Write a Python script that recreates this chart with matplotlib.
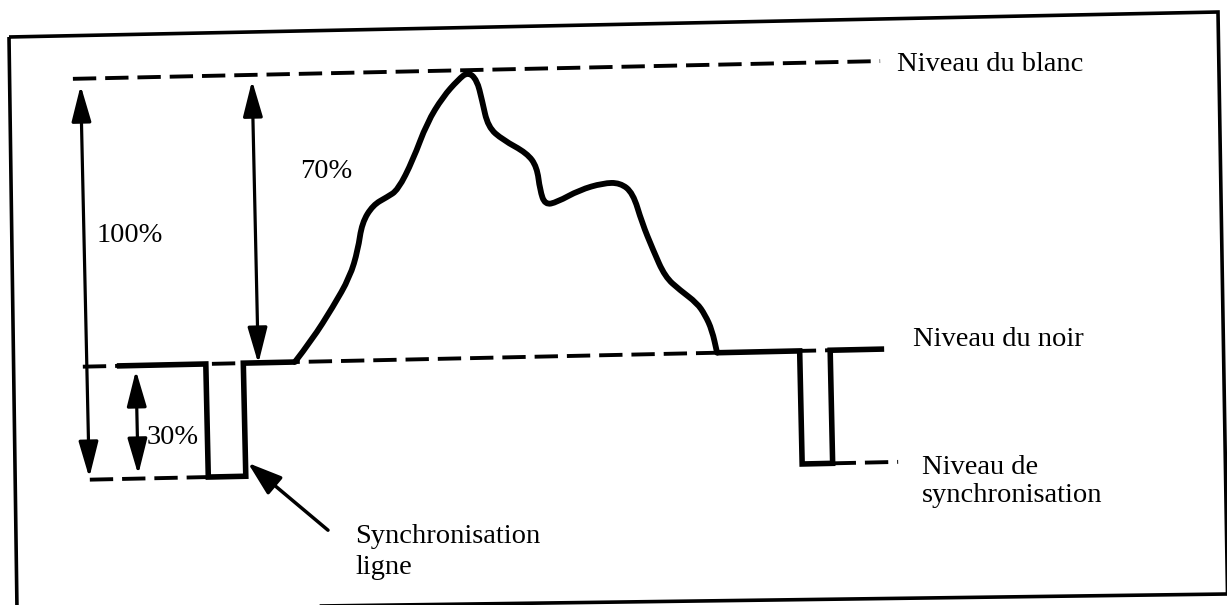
import matplotlib
matplotlib.use("Agg")
import matplotlib.pyplot as plt
from matplotlib.patches import FancyArrowPatch, Polygon, PathPatch
from matplotlib.path import Path
from matplotlib.transforms import Affine2D

# Signal levels, in % of the sync-to-white range
SYNC = 0.0
BLACK = 28.2
WHITE = 100.0

# Video line trace: time position (diagram units) and level (%)
WAVE_X = [293.6, 311.1, 332.8, 350.5, 359.1, 363.7, 375.1, 389.3, 400.4, 416.1,
          430.9, 447.5, 462.8, 473.0, 481.8, 486.4, 491.8, 506.5, 530.2, 539.9,
          542.4, 547.1, 559.1, 581.8, 605.6, 622.6, 635.3, 643.7, 654.1, 665.5,
          680.2, 696.9, 704.7, 711.3, 715.9]
WAVE_Y = [28.2, 33.6, 41.7, 49.1, 55.8, 62.5, 66.9, 68.8, 70.5, 77.9,
          87.1, 93.5, 97.6, 99.6, 97.5, 92.5, 85.7, 82.4, 79.0, 75.5,
          69.7, 66.0, 66.6, 69.5, 71.1, 71.1, 68.5, 61.0, 54.2, 47.4,
          44.0, 40.7, 37.7, 33.9, 28.2]

# sync pulses (start, end) on the time axis
PULSES = [(204.5, 242.0), (798.5, 829.0)]
TRACE_START, TRACE_END = 115.5, 883.0

# extent of the dashed reference levels
WHITE_SPAN = (77.9, 885.3)
BLACK_SPAN = (81.5, 829.0)
SYNC_SPANS = [(86.0, 204.5), (829.0, 894.5)]

# dimension arrows: (x, level from, level to)
DIM_ARROWS = [(85.5, 98.3, 0.5), (257.0, 98.6, 28.0), (134.5, 27.0, 1.0)]
POINTER = ((323.0, -13.9), (244.4, 3.3))

# labels: text, x, baseline y (image pixels)
LABELS = [
    ("Niveau du blanc", 897, 71),
    ("70%", 300, 178),
    ("100%", 97, 242),
    ("30%", 147, 444),
    ("Synchronisation", 355, 543),
    ("ligne", 355, 574),
    ("Niveau du noir", 913, 346),
    ("Niveau de", 922, 474),
    ("synchronisation", 922, 502),
]

# image frame corners (pixels)
FRAME = [(9, 37), (1218, 12), (1227.5, 594), (17, 610)]

PX_PER_PCT = 4.011
SYNC_PX = 468.4
TILT = -1.26

fig = plt.figure(figsize=(12.27, 6.05), dpi=100)
ax = fig.add_axes([0, 0, 1, 1])
ax.set_xlim(0, 1227)
ax.set_ylim(605, 0)
ax.axis("off")

# diagram coords (time, %) -> slightly tilted scan pixels
diag = (Affine2D().scale(1, -PX_PER_PCT).translate(0, SYNC_PX)
        .rotate_deg_around(600, 300, TILT) + ax.transData)

ax.add_patch(Polygon(FRAME, closed=True, fill=False, lw=2.6, ec="black"))

dash = (0, (6, 2.3))
ax.plot(WHITE_SPAN, [WHITE, WHITE], color="black", lw=2.8, ls=dash, transform=diag)
ax.plot(BLACK_SPAN, [BLACK, BLACK], color="black", lw=2.8, ls=dash, transform=diag)
for x0, x1 in SYNC_SPANS:
    ax.plot([x0, x1], [SYNC, SYNC], color="black", lw=2.8, ls=dash, transform=diag)

# black level + sync pulses (straight parts of the trace)
lx = [TRACE_START, PULSES[0][0], PULSES[0][0], PULSES[0][1], PULSES[0][1], WAVE_X[0]]
ly = [BLACK, BLACK, SYNC, SYNC, BLACK, BLACK]
ax.plot(lx, ly, color="black", lw=4.0, solid_joinstyle="miter",
        solid_capstyle="butt", transform=diag)
rx = [WAVE_X[-1], PULSES[1][0], PULSES[1][0], PULSES[1][1], PULSES[1][1], TRACE_END]
ry = [BLACK, BLACK, SYNC, SYNC, BLACK, BLACK]
ax.plot(rx, ry, color="black", lw=4.0, solid_joinstyle="miter",
        solid_capstyle="butt", transform=diag)

# picture content, drawn as a smooth quadratic path through the points
pts = list(zip(WAVE_X, WAVE_Y))
verts = [pts[0]]
codes = [Path.MOVETO]
for i in range(1, len(pts) - 1):
    mid = ((pts[i][0] + pts[i + 1][0]) / 2, (pts[i][1] + pts[i + 1][1]) / 2)
    verts += [pts[i], mid]
    codes += [Path.CURVE3, Path.CURVE3]
verts.append(pts[-1])
codes.append(Path.LINETO)
ax.add_patch(PathPatch(Path(verts, codes), fill=False, lw=4.2, ec="black",
                       capstyle="round", joinstyle="round", transform=diag))

for x, v0, v1 in DIM_ARROWS:
    ax.add_patch(FancyArrowPatch((x, v0), (x, v1), transform=diag,
                                 arrowstyle="<|-|>,head_length=22,head_width=6",
                                 mutation_scale=1, lw=2.3, color="black",
                                 shrinkA=0, shrinkB=0))

ax.add_patch(FancyArrowPatch(POINTER[0], POINTER[1], transform=diag,
                             arrowstyle="-|>,head_length=21,head_width=7",
                             mutation_scale=1, lw=2.5, color="black",
                             shrinkA=0, shrinkB=0))

for txt, x, y in LABELS:
    ax.text(x, y, txt, fontsize=20.5, family="Liberation Serif",
            ha="left", va="baseline", color="black")

fig.savefig("out.png", dpi=100)
